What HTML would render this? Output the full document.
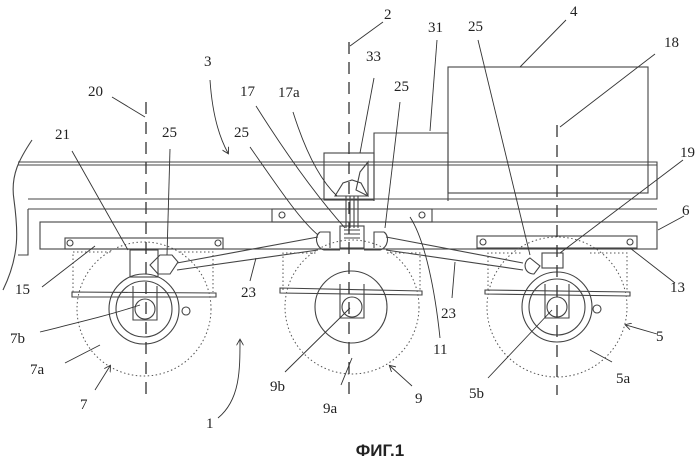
<!DOCTYPE html>
<html><head><meta charset="utf-8"><style>
html,body{margin:0;padding:0;background:#fff;width:699px;height:458px;overflow:hidden}
svg{display:block}
text{font-family:"Liberation Serif",serif;font-size:15px;fill:#222}
</style></head><body>
<svg width="699" height="458" viewBox="0 0 699 458" xmlns="http://www.w3.org/2000/svg">
<defs><marker id="ah" markerWidth="8" markerHeight="8" refX="6" refY="4" orient="auto"><path d="M0,0 L7,4 L0,8" fill="none" stroke="#333" stroke-width="1"/></marker></defs>
<g fill="none" stroke="#444" stroke-width="1.1">
<!-- cab & boxes -->
<rect x="448" y="67" width="200" height="126"/>
<path d="M374,201 V133 H448 V201"/>
<rect x="324" y="153" width="50" height="47"/>
<!-- frame -->
<path d="M18,162 H657 V199 H28"/>
<path d="M18,165 H657"/>
<path d="M28,209 H657"/>
<path d="M28,209 V255 H18"/>
<rect x="40" y="222" width="617" height="27"/>
<rect x="272" y="209" width="160" height="13"/>
<circle cx="282" cy="215" r="3"/><circle cx="422" cy="215" r="3"/>
<rect x="65" y="238" width="158" height="11"/>
<rect x="477" y="236" width="160" height="12"/>
<circle cx="70" cy="243" r="3"/><circle cx="218" cy="243" r="3"/>
<circle cx="483" cy="242" r="3"/><circle cx="630" cy="242" r="3"/>
<!-- left wavy -->
<path d="M32,140 C20,158 10,175 14,200 C18,230 20,255 3,290"/>
<!-- gears -->
<path d="M335,196 L343,183 L352,180 L361,183 L368,196 Z"/>
<path d="M356,190 L360,172 L368,162 L368,196 Z"/>
<path d="M346,196 V228 M350,196 V228 M354,196 V228 M358,196 V228"/>
<rect x="340" y="226" width="24" height="22"/>
<path d="M344,230 H360 M344,234 H360 M344,238 H360"/>
<path d="M320,232 C314,236 316,248 324,250 H340 M320,232 H330 V248 M384,232 C390,236 388,248 380,250 H364 M384,232 H374 V248"/>
<!-- rods -->
<path d="M177,263 L318,237 M177,270 L318,250 M386,237 L523,263 M386,250 L523,270"/>
<!-- wheel-end gearboxes -->
<rect x="130" y="250" width="28" height="27"/>
<path d="M150,265 L160,255 L172,255 L178,262 L170,274 L158,274 Z"/>
<rect x="542" y="253" width="21" height="15"/>
<path d="M530,258 C522,262 524,274 534,274 L540,266 Z"/>
<!-- leaf springs -->
<path d="M72,292 L216,293 L216,297 L72,297 Z"/>
<path d="M280,288 L422,291 L422,295 L280,293 Z"/>
<path d="M485,290 L630,292 L630,296 L485,294 Z"/>
<!-- wheels solid -->
<circle cx="144" cy="309" r="35"/><circle cx="144" cy="309" r="28"/>
<circle cx="351" cy="307" r="36"/>
<circle cx="557" cy="307" r="35"/><circle cx="557" cy="307" r="28"/>
<!-- U-bolts & hubs -->
<path d="M133,286 V320 H157 V286"/><circle cx="145" cy="309" r="10"/>
<path d="M340,284 V318 H364 V284"/><circle cx="352" cy="307" r="10"/>
<path d="M545,284 V318 H569 V284"/><circle cx="557" cy="307" r="10"/>
<circle cx="186" cy="311" r="4"/><circle cx="597" cy="309" r="4"/>
</g>
<!-- dotted tires -->
<g fill="none" stroke="#555" stroke-width="1" stroke-dasharray="1.5,2.5">
<circle cx="144" cy="309" r="67"/>
<circle cx="352" cy="307" r="67"/>
<circle cx="557" cy="307" r="70"/>
<path d="M73,292 V252 H113 M180,252 H213 V292"/>
<path d="M283,290 V253 H318 M387,253 H420 V290"/>
<path d="M488,290 V253 H523 M590,253 H627 V290"/>
</g>
<!-- dashed center lines -->
<g stroke="#333" stroke-width="1.3" stroke-dasharray="12,8">
<line x1="146" y1="102" x2="146" y2="395"/>
<line x1="349" y1="42" x2="349" y2="400"/>
<line x1="557" y1="125" x2="557" y2="395"/>
</g>
<!-- leaders -->
<g fill="none" stroke="#333" stroke-width="0.9">
<path d="M383,22 L350,46"/>
<path d="M437,40 L430,131"/>
<path d="M478,40 L530,255"/>
<path d="M566,20 L520,67"/>
<path d="M655,54 L560,127"/>
<path d="M374,78 L360,153"/>
<path d="M400,102 L385,228"/>
<path d="M293,112 C305,150 320,180 337,196"/>
<path d="M256,106 C290,160 320,200 345,228"/>
<path d="M250,147 C280,190 300,220 318,235"/>
<path d="M210,80 C212,110 218,135 228,153" marker-end="url(#ah)"/>
<path d="M112,97 L145,117"/>
<path d="M72,151 L128,250"/>
<path d="M170,149 L167,255"/>
<path d="M42,287 L95,246"/>
<path d="M250,281 L256,258"/>
<path d="M452,298 L455,262"/>
<path d="M440,338 C435,290 425,240 410,217"/>
<path d="M683,160 L560,253"/>
<path d="M684,216 L658,230"/>
<path d="M675,283 L630,248"/>
<path d="M657,334 L626,325" marker-end="url(#ah)"/>
<path d="M612,362 L590,350"/>
<path d="M488,378 L552,310"/>
<path d="M412,386 L390,366" marker-end="url(#ah)"/>
<path d="M352,358 L341,385"/>
<path d="M285,372 L350,308"/>
<path d="M40,332 C80,322 110,315 140,305"/>
<path d="M65,363 L100,345"/>
<path d="M95,390 L110,366" marker-end="url(#ah)"/>
<path d="M218,418 C240,400 240,370 240,340" marker-end="url(#ah)"/>
</g>
<!-- labels -->
<g>
<text x="384" y="19">2</text>
<text x="428" y="32">31</text>
<text x="468" y="31">25</text>
<text x="570" y="16">4</text>
<text x="664" y="47">18</text>
<text x="366" y="61">33</text>
<text x="394" y="91">25</text>
<text x="204" y="66">3</text>
<text x="88" y="96">20</text>
<text x="240" y="96">17</text>
<text x="278" y="97">17a</text>
<text x="55" y="139">21</text>
<text x="162" y="137">25</text>
<text x="234" y="137">25</text>
<text x="680" y="157">19</text>
<text x="682" y="215">6</text>
<text x="15" y="294">15</text>
<text x="241" y="297">23</text>
<text x="441" y="318">23</text>
<text x="670" y="292">13</text>
<text x="10" y="343">7b</text>
<text x="30" y="374">7a</text>
<text x="80" y="409">7</text>
<text x="433" y="354">11</text>
<text x="656" y="341">5</text>
<text x="616" y="383">5a</text>
<text x="469" y="398">5b</text>
<text x="270" y="391">9b</text>
<text x="415" y="403">9</text>
<text x="323" y="413">9a</text>
<text x="206" y="428">1</text>
<text x="380" y="456" text-anchor="middle" style="font-family:'Liberation Sans',sans-serif;font-weight:bold;font-size:17px">ФИГ.1</text>
</g>
</svg>
</body></html>
